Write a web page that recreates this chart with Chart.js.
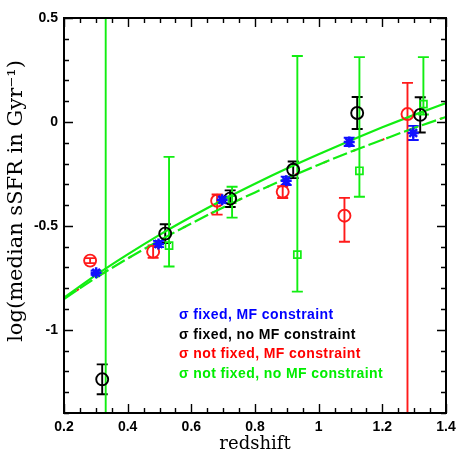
<!DOCTYPE html>
<html><head><meta charset="utf-8">
<script src="https://cdn.jsdelivr.net/npm/chart.js@4/dist/chart.umd.min.js"></script>
<style>html,body{margin:0;padding:0;background:#fff}canvas{display:block}</style>
</head><body>
<canvas id="c" width="463" height="463"></canvas>
<script>
// ---- data ----
const blueX = [0.301, 0.497, 0.697, 0.898, 1.096, 1.297];
const blueY = [-0.725, -0.587, -0.374, -0.283, -0.096, -0.053];
const blueErr = [0.01, 0.015, 0.015, 0.02, 0.02, 0.034];

const blackX = [0.320, 0.518, 0.722, 0.920, 1.121, 1.319];
const blackY = [-1.238, -0.537, -0.369, -0.230, 0.043, 0.034];
const blackErr = [0.072, 0.045, 0.04, 0.04, 0.077, 0.085];

const redX = [0.282, 0.480, 0.681, 0.887, 1.081, 1.279];
const redY = [-0.667, -0.624, -0.379, -0.336, -0.451, 0.038];
const redErrUp = [0.012, 0.03, 0.03, 0.027, 0.086, 0.15];
const redErrDown = [0.012, 0.03, 0.067, 0.03, 0.125, 2.0];

// first green point lies outside the plotted range (only its error bar shows)
const greenX = [0.331, 0.530, 0.728, 0.933, 1.128, 1.329];
const greenY = [-1.6, -0.595, -0.374, -0.638, -0.235, 0.086];
const greenErrUp = [3.0, 0.427, 0.062, 0.955, 0.547, 0.226];
const greenErrDown = [1.0, 0.10, 0.086, 0.178, 0.125, 0.05];

const fitX = [0.2, 0.3, 0.4, 0.5, 0.6, 0.7, 0.8, 0.9, 1.0, 1.1, 1.2, 1.3, 1.4];
const fitSolid = [-0.845, -0.737, -0.637, -0.543, -0.456, -0.374, -0.297, -0.224, -0.155, -0.089, -0.026, 0.034, 0.091];
const fitDashed = [-0.852, -0.750, -0.657, -0.570, -0.488, -0.411, -0.339, -0.271, -0.206, -0.144, -0.086, -0.029, 0.024];

const xTicks = [0.2, 0.4, 0.6, 0.8, 1, 1.2, 1.4];
const xTickLabels = ['0.2', '0.4', '0.6', '0.8', '1', '1.2', '1.4'];
const xMinor = [0.25, 0.3, 0.35, 0.45, 0.5, 0.55, 0.65, 0.7, 0.75, 0.85, 0.9, 0.95, 1.05, 1.1, 1.15, 1.25, 1.3, 1.35];
const yTicks = [-1, -0.5, 0, 0.5];
const yTickLabels = ['-1', '-0.5', '0', '0.5'];
const yMinor = [-1.4, -1.3, -1.2, -1.1, -0.9, -0.8, -0.7, -0.6, -0.4, -0.3, -0.2, -0.1, 0.1, 0.2, 0.3, 0.4];

const legendLabels = ['σ fixed, MF constraint', 'σ fixed, no MF constraint', 'σ not fixed, MF constraint', 'σ not fixed, no MF constraint'];
const legendColors = ['#0000ff', '#000000', '#ff0000', '#00ee00'];
const xTitle = 'redshift';
const yTitle = 'log(median sSFR in Gyr⁻¹)';

const BLUE = '#1010ff', BLACK = '#000000', RED = '#ff1a1a', GREEN = '#11ee11';

const pts = (xs, ys) => xs.map((x, i) => ({x: x, y: ys[i]}));

const errSeries = [
  {x: blueX, y: blueY, up: blueErr, down: blueErr, color: BLUE},
  {x: blackX, y: blackY, up: blackErr, down: blackErr, color: BLACK},
  {x: redX, y: redY, up: redErrUp, down: redErrDown, color: RED},
  {x: greenX, y: greenY, up: greenErrUp, down: greenErrDown, color: GREEN}
];

const decor = {
  id: 'decor',
  beforeDatasetsDraw(chart) {
    const ctx = chart.ctx, a = chart.chartArea, xs = chart.scales.x, ys = chart.scales.y;
    ctx.save();
    ctx.beginPath(); ctx.rect(a.left, a.top, a.right - a.left, a.bottom - a.top); ctx.clip();
    ctx.lineWidth = 1.9;
    errSeries.forEach(s => {
      ctx.strokeStyle = s.color;
      s.x.forEach((xv, i) => {
        const px = xs.getPixelForValue(xv);
        const pTop = ys.getPixelForValue(s.y[i] + s.up[i]);
        const pBot = ys.getPixelForValue(s.y[i] - s.down[i]);
        ctx.beginPath();
        ctx.moveTo(px, pTop); ctx.lineTo(px, pBot);
        ctx.moveTo(px - 5.5, pTop); ctx.lineTo(px + 5.5, pTop);
        ctx.moveTo(px - 5.5, pBot); ctx.lineTo(px + 5.5, pBot);
        ctx.stroke();
      });
    });
    ctx.restore();
  },
  afterDraw(chart) {
    const ctx = chart.ctx, a = chart.chartArea, xs = chart.scales.x, ys = chart.scales.y;
    ctx.save();
    ctx.strokeStyle = '#000'; ctx.lineWidth = 1.4;
    ctx.beginPath();
    const tx = (v, len) => { const p = Math.round(xs.getPixelForValue(v)) + 0.5;
      ctx.moveTo(p, a.bottom); ctx.lineTo(p, a.bottom - len);
      ctx.moveTo(p, a.top); ctx.lineTo(p, a.top + len); };
    const ty = (v, len) => { const p = Math.round(ys.getPixelForValue(v)) + 0.5;
      ctx.moveTo(a.left, p); ctx.lineTo(a.left + len, p);
      ctx.moveTo(a.right, p); ctx.lineTo(a.right - len, p); };
    xTicks.forEach(v => tx(v, 9)); xMinor.forEach(v => tx(v, 5));
    yTicks.forEach(v => ty(v, 9)); yMinor.forEach(v => ty(v, 5));
    ctx.stroke();
    ctx.lineWidth = 2;
    ctx.strokeRect(a.left, a.top, a.right - a.left, a.bottom - a.top);
    // legend text
    ctx.font = 'bold 14px "Liberation Sans", Arial, sans-serif';
    try { ctx.letterSpacing = '0.4px'; } catch (e) {}
    ctx.textAlign = 'left'; ctx.textBaseline = 'middle';
    legendLabels.forEach((t, i) => {
      ctx.fillStyle = legendColors[i];
      ctx.fillText(t, 179, 315 + i * 19.7);
    });
    try { ctx.letterSpacing = '0px'; } catch (e) {}
    // axis titles
    ctx.fillStyle = '#000';
    ctx.font = '18px "DejaVu Serif", serif';
    ctx.textAlign = 'center'; ctx.textBaseline = 'middle';
    ctx.fillText(xTitle, (a.left + a.right) / 2, 444);
    ctx.font = '21px "DejaVu Serif", serif';
    ctx.translate(17, 201); ctx.rotate(-Math.PI / 2);
    ctx.fillText(yTitle, 0, 0);
    ctx.restore();
  }
};

new Chart(document.getElementById('c'), {
  type: 'scatter',
  data: {
    datasets: [
      {label: 'blue', data: pts(blueX, blueY), pointStyle: 'star', radius: 5.5, borderColor: BLUE, backgroundColor: BLUE, borderWidth: 2.5, showLine: false, order: 1},
      {label: 'black', data: pts(blackX, blackY), pointStyle: 'circle', radius: 6, borderColor: BLACK, backgroundColor: 'rgba(0,0,0,0)', borderWidth: 1.9, showLine: false, order: 2},
      {label: 'red', data: pts(redX, redY), pointStyle: 'circle', radius: 6, borderColor: RED, backgroundColor: 'rgba(0,0,0,0)', borderWidth: 1.9, showLine: false, order: 3},
      {label: 'green', data: pts(greenX, greenY), pointStyle: 'rect', radius: 5, borderColor: GREEN, backgroundColor: 'rgba(0,0,0,0)', borderWidth: 1.7, showLine: false, order: 4, clip: 0},
      {label: 'fit solid', data: pts(fitX, fitSolid), showLine: true, pointRadius: 0, borderColor: GREEN, borderWidth: 2.2, tension: 0.4, cubicInterpolationMode: 'monotone', order: 5},
      {label: 'fit dashed green', data: pts(fitX, fitDashed), showLine: true, pointRadius: 0, borderColor: GREEN, borderWidth: 2.2, borderDash: [15, 4], tension: 0.4, cubicInterpolationMode: 'monotone', order: 6},
      {label: 'fit dashed red', data: pts(fitX, fitDashed), showLine: true, pointRadius: 0, borderColor: RED, borderWidth: 2, borderDash: [3, 28], borderDashOffset: -15, tension: 0.4, cubicInterpolationMode: 'monotone', order: 7}
    ]
  },
  options: {
    responsive: false, animation: false, devicePixelRatio: 1,
    layout: {padding: {top: 18, right: 17, left: 0, bottom: 0}},
    plugins: {legend: {display: false}, tooltip: {enabled: false}},
    scales: {
      x: {
        type: 'linear', min: 0.2, max: 1.4,
        grid: {display: false, drawTicks: false}, border: {display: false},
        afterFit: s => { s.height = 50; },
        afterBuildTicks: s => { s.ticks = xTicks.map(v => ({value: v})); },
        ticks: {padding: 6, color: '#000', font: {family: '"Liberation Sans", Arial, sans-serif', size: 14, weight: 'bold'},
          callback: (v) => xTickLabels[xTicks.indexOf(v)], maxRotation: 0, autoSkip: false}
      },
      y: {
        type: 'linear', min: -1.4, max: 0.5,
        grid: {display: false, drawTicks: false}, border: {display: false},
        afterFit: s => { s.width = 64; },
        afterBuildTicks: s => { s.ticks = yTicks.map(v => ({value: v})); },
        ticks: {padding: 6, color: '#000', font: {family: '"Liberation Sans", Arial, sans-serif', size: 14, weight: 'bold'},
          callback: (v) => yTickLabels[yTicks.indexOf(v)], autoSkip: false}
      }
    }
  },
  plugins: [decor]
});
</script>
</body></html>
